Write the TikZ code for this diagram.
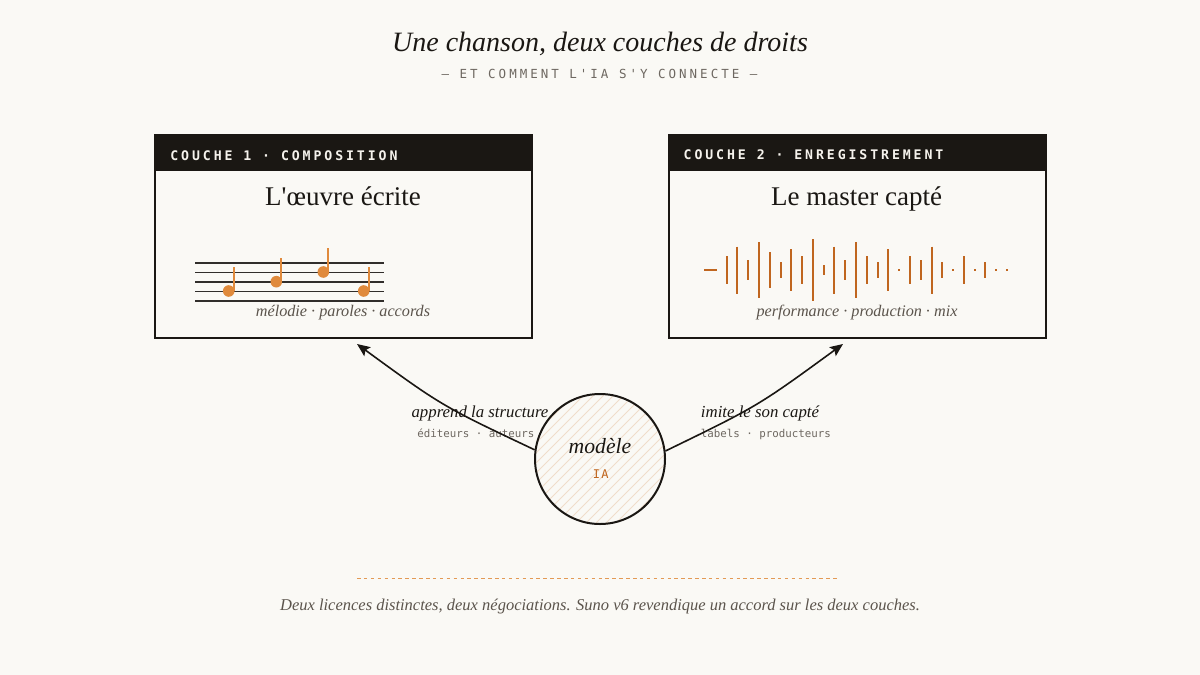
\documentclass[tikz,border=0pt]{standalone}
\usepackage{fontspec}
\setmainfont{Liberation Serif}
\usetikzlibrary{arrows.meta}
\newfontfamily\serifplain{Liberation Serif}
\newfontfamily\monoreg{DejaVu Sans Mono}
\newfontfamily\monohdr[LetterSpace=22]{DejaVu Sans Mono Bold}
\newfontfamily\monosub[LetterSpace=24]{DejaVu Sans Mono}
\newfontfamily\monoia[LetterSpace=12]{DejaVu Sans Mono}
\definecolor{bg}{HTML}{FAF9F5}
\definecolor{ink}{HTML}{1A1713}
\definecolor{graytxt}{HTML}{6E6861}
\definecolor{captxt}{HTML}{5B544C}
\definecolor{noteorange}{HTML}{E08A3C}
\definecolor{waveorange}{HTML}{C0661F}
\definecolor{hatchc}{HTML}{F0DDCA}
\definecolor{dashc}{HTML}{E39A55}
\definecolor{headtxt}{HTML}{F5F2EC}
\tikzset{
  boxframe/.style={draw=ink, line width=2pt},
  hdrbar/.style={fill=ink, draw=none},
  hdrtext/.style={anchor=base west, inner sep=0pt, text=headtxt, font=\fontsize{13.2}{16}\selectfont\monohdr},
  boxtitle/.style={anchor=base, inner sep=0pt, text=ink, font=\fontsize{27}{31}\selectfont\serifplain},
  captext/.style={anchor=base, inner sep=0pt, text=captxt, font=\fontsize{16.2}{19}\selectfont\serifplain\itshape},
  lbltext/.style={anchor=base, inner sep=0pt, text=ink, font=\fontsize{16.8}{20}\selectfont\serifplain\itshape},
  monolbl/.style={anchor=base, inner sep=0pt, text=graytxt, font=\fontsize{10.8}{13}\selectfont\monoreg},
  staffline/.style={draw=ink!90, line width=1.5pt},
  notehead/.style={fill=noteorange, draw=none},
  notestem/.style={draw=noteorange, line width=1.8pt},
  wavebar/.style={draw=waveorange, line width=2pt},
  hatchline/.style={draw=hatchc, line width=0.8pt},
  arrowline/.style={draw=ink, line width=1.6pt, -{Stealth[length=13pt,width=11pt,inset=2.5pt]}},
}
\begin{document}
\begin{tikzpicture}[x=1pt,y=-1pt]
\useasboundingbox[fill=bg] (0,0) rectangle (1200,675);

% titles
\node[anchor=base, inner sep=0pt, text=ink, font=\fontsize{28}{32}\selectfont\serifplain\itshape] (title) at (600,51) {Une chanson, deux couches de droits};
\node[anchor=base, inner sep=0pt, text=graytxt, font=\fontsize{12.5}{15}\selectfont\monosub] (subtitle) at (599.5,78.7) {— ET COMMENT L'IA S'Y CONNECTE —};

% box 1
\fill[hdrbar] (154.5,135) rectangle (531.5,170.5);
\draw[boxframe] (154.5,135) rectangle (531.5,337.5);
\node[hdrtext] (h1) at (170.2,160) {COUCHE 1 · COMPOSITION};
\node[boxtitle] (t1) at (343,205) {L'œuvre écrite};
\foreach \yy [count=\k] in {263,272.5,282,291.5,301}
  \draw[staffline] (195,\yy) -- (384,\yy);
\foreach \hx/\hy/\sx/\sy in {228.7/291/234/267, 276.3/281.7/281/258, 323.3/272/328/248.3, 363.7/291/369/267}{
  \draw[notestem] (\sx,\hy) -- (\sx,\sy);
  \fill[notehead] (\hx,\hy) circle[radius=5.8pt];
}
\node[captext] (c1) at (343,316.7) {mélodie · paroles · accords};

% box 2
\fill[hdrbar] (668.5,135) rectangle (1045.5,170.5);
\draw[boxframe] (668.5,135) rectangle (1045.5,337.5);
\node[hdrtext] (h2) at (683.5,159.5) {COUCHE 2 · ENREGISTREMENT};
\node[boxtitle] (t2) at (856.5,205) {Le master capté};
\draw[wavebar, line width=2.5pt] (704,270) -- (717,270);
\foreach \hh [count=\i from 0] in {14,23.5,10,28,18,8,21,14,31,5,23.5,10,28,14,8,21,1,14,10,23.5,8,1,14,1,8,1,1}{
  \pgfmathsetmacro{\wx}{round(726.7+10.78*\i)}
  \draw[wavebar] (\wx,270-\hh) -- (\wx,270+\hh);
}
\node[captext] (c2) at (857,316.7) {performance · production · mix};

% model circle
\begin{scope}
  \clip (600,459) circle[radius=65pt];
  \foreach \d in {-200,-190,...,200}
    \draw[hatchline] (600+\d-90,459+90) -- (600+\d+90,459-90);
\end{scope}
\node[circle, draw=ink, line width=2pt, minimum size=130pt, inner sep=0pt] (m) at (600,459) {};
\node[anchor=base, inner sep=0pt, text=ink, font=\fontsize{21.7}{25}\selectfont\serifplain\itshape] (mt) at (600,453.3) {modèle};
\node[anchor=base, inner sep=0pt, text=waveorange, font=\fontsize{12}{14}\selectfont\monoia] (ia) at (600.7,478) {IA};

% labels
\node[lbltext] (l1) at (480,417.3) {apprend la structure};
\node[monolbl] (l1b) at (475.8,437.3) {éditeurs · auteurs};
\node[lbltext] (l2) at (760,417.3) {imite le son capté};
\node[monolbl] (l2b) at (765.8,437.3) {labels · producteurs};

% arrows
\coordinate (a1) at (357,344);
\coordinate (a2) at (843,344);
\draw[arrowline] (m.172.6) .. controls (442,406) .. (a1);
\draw[arrowline] (m.7.4) .. controls (758,406) .. (a2);

% footer
\coordinate (d1) at (357,578.5);
\coordinate (d2) at (839,578.5);
\draw[draw=dashc, line width=1.1pt, dash pattern=on 3.5pt off 3.4pt] (d1) -- (d2);
\node[captext, font=\fontsize{16.5}{19}\selectfont\serifplain\itshape] (foot) at (600,610) {Deux licences distinctes, deux négociations. Suno v6 revendique un accord sur les deux couches.};
\end{tikzpicture}
\end{document}
